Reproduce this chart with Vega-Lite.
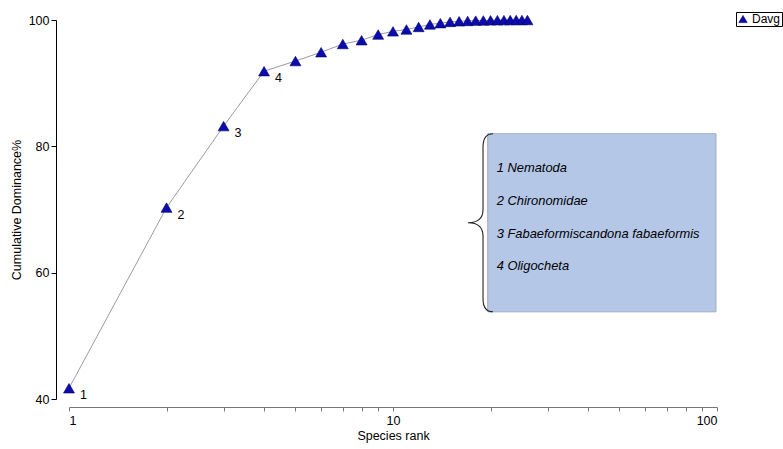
{
  "$schema": "https://vega.github.io/schema/vega-lite/v6.json",
  "width": 648,
  "height": 379,
  "autosize": "none",
  "padding": {"left": 69, "top": 20, "right": 66, "bottom": 50},
  "background": "white",
  "config": {"view": {"stroke": null}, "font": "Liberation Sans"},
  "datasets": {
    "pts": [
      {"rank": 1, "dominance": 41.7},
      {"rank": 2, "dominance": 70.3},
      {"rank": 3, "dominance": 83.2},
      {"rank": 4, "dominance": 91.9},
      {"rank": 5, "dominance": 93.5},
      {"rank": 6, "dominance": 94.9},
      {"rank": 7, "dominance": 96.2},
      {"rank": 8, "dominance": 96.8},
      {"rank": 9, "dominance": 97.7},
      {"rank": 10, "dominance": 98.2},
      {"rank": 11, "dominance": 98.5},
      {"rank": 12, "dominance": 98.9},
      {"rank": 13, "dominance": 99.3},
      {"rank": 14, "dominance": 99.5},
      {"rank": 15, "dominance": 99.7},
      {"rank": 16, "dominance": 99.8},
      {"rank": 17, "dominance": 99.85},
      {"rank": 18, "dominance": 99.9},
      {"rank": 19, "dominance": 99.93},
      {"rank": 20, "dominance": 99.95},
      {"rank": 21, "dominance": 99.97},
      {"rank": 22, "dominance": 99.98},
      {"rank": 23, "dominance": 99.99},
      {"rank": 24, "dominance": 100},
      {"rank": 25, "dominance": 100},
      {"rank": 26, "dominance": 100}
    ]
  },
  "layer": [
    {
      "data": {"values": [{}]},
      "mark": {"type": "rect", "fill": "#b4c7e7", "stroke": "#a3adbf", "strokeWidth": 1},
      "encoding": {
        "x": {"datum": 19.6, "type": "quantitative"},
        "x2": {"datum": 99.3},
        "y": {"datum": 82.0, "type": "quantitative"},
        "y2": {"datum": 53.8}
      }
    },
    {
      "data": {"values": [{}]},
      "mark": {"type": "point", "shape": "M0.112,-1 Q0,-1 0,-0.85 L0,-0.15 Q0,0 -0.169,0 Q0,0 0,0.15 L0,0.85 Q0,1 0.112,1", "filled": false, "stroke": "#222222", "strokeWidth": 1.1, "size": 31684, "opacity": 1},
      "encoding": {
        "x": {"datum": 18.96, "type": "quantitative"},
        "y": {"datum": 67.9, "type": "quantitative"}
      }
    },
    {
      "data": {"values": [{}]},
      "mark": {"type": "text", "align": "left", "baseline": "top", "fontStyle": "italic", "fontSize": 12.9, "lineHeight": 32.7, "color": "black", "text": ["1 Nematoda", "2 Chironomidae", "3 Fabaeformiscandona fabaeformis", "4 Oligocheta"]},
      "encoding": {
        "x": {"datum": 20.9, "type": "quantitative"},
        "y": {"datum": 77.5, "type": "quantitative"}
      }
    },
    {
      "data": {"name": "pts"},
      "mark": {"type": "line", "color": "#9a9aa8", "strokeWidth": 1},
      "encoding": {
        "x": {"field": "rank", "type": "quantitative"},
        "y": {"field": "dominance", "type": "quantitative"}
      }
    },
    {
      "data": {"name": "pts"},
      "mark": {"type": "point", "filled": true, "size": 120, "stroke": "#000066", "strokeWidth": 0.6, "opacity": 1},
      "encoding": {
        "x": {
          "field": "rank",
          "type": "quantitative",
          "scale": {"type": "log", "domain": [1, 100]},
          "axis": {
            "title": "Species rank",
            "values": [1, 2, 3, 4, 5, 6, 7, 8, 9, 10, 20, 30, 40, 50, 60, 70, 80, 90, 100],
            "labelExpr": "datum.value == 1 || datum.value == 10 || datum.value == 100 ? format(datum.value, 'd') : ''",
            "grid": false,
            "offset": 8,
            "tickSize": 4,
            "domainColor": "#777777",
            "tickColor": "#777777",
            "labelColor": "black",
            "labelFontSize": 12.5,
            "labelPadding": 3,
            "titleFontSize": 12.5,
            "titleFontWeight": "normal",
            "titleColor": "black",
            "titlePadding": 3
          }
        },
        "y": {
          "field": "dominance",
          "type": "quantitative",
          "scale": {"domain": [40, 100], "nice": false, "zero": false},
          "axis": {
            "title": "Cumulative Dominance%",
            "values": [40, 60, 80, 100],
            "grid": false,
            "offset": 13,
            "tickSize": 5,
            "domainColor": "black",
            "tickColor": "black",
            "labelColor": "black",
            "labelFontSize": 12.5,
            "labelPadding": 2,
            "titleFontSize": 12.5,
            "titleFontWeight": "normal",
            "titleColor": "black",
            "titlePadding": 5
          }
        },
        "color": {
          "datum": "Davg",
          "scale": {"range": ["#0c0cae"]},
          "legend": {
            "title": null,
            "orient": "none",
            "legendX": 667,
            "legendY": -8,
            "strokeColor": "black",
            "padding": 1,
            "labelFontSize": 12,
            "labelColor": "black",
            "labelOffset": 3,
            "symbolSize": 70,
            "symbolStrokeColor": "#000066",
            "symbolStrokeWidth": 0.6
          }
        },
        "shape": {"datum": "Davg", "scale": {"range": ["triangle-up"]}}
      }
    },
    {
      "data": {"name": "pts"},
      "transform": [{"filter": "datum.rank <= 4"}],
      "mark": {"type": "text", "align": "left", "baseline": "middle", "dx": 11, "dy": 7, "fontSize": 12.5, "color": "black"},
      "encoding": {
        "x": {"field": "rank", "type": "quantitative"},
        "y": {"field": "dominance", "type": "quantitative"},
        "text": {"field": "rank", "type": "quantitative"}
      }
    }
  ]
}
